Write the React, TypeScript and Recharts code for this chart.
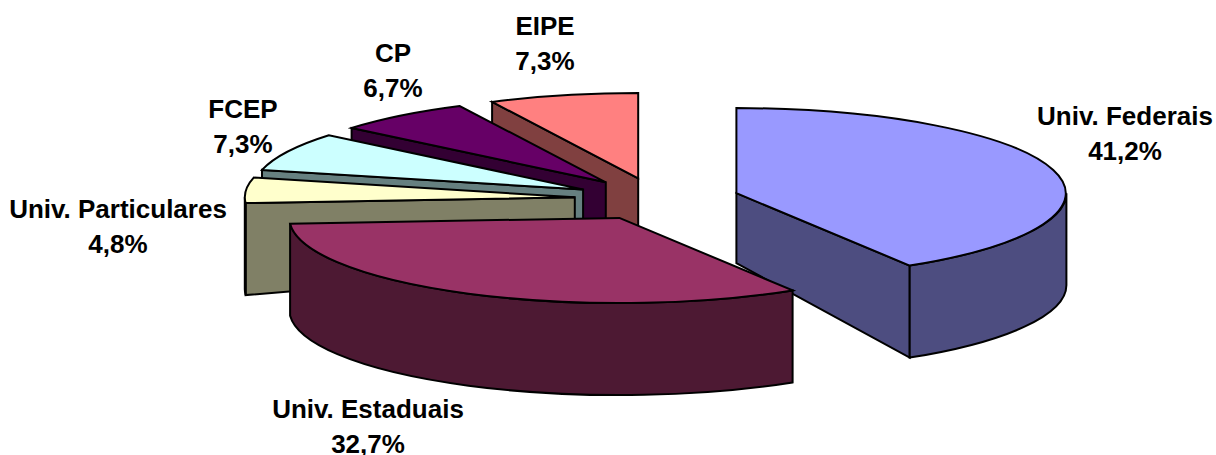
import { PieChart, Pie } from "recharts";

// Slices in paint order: back-right first, the big front slice last
const categories = ["Univ. Federais", "EIPE", "CP", "FCEP", "Univ. Particulares", "Univ. Estaduais"];
const shares = [41.2, 7.3, 6.7, 7.3, 4.8, 32.7];
const topColors = ["#9999FF", "#FF8080", "#660066", "#CCFFFF", "#FFFFCC", "#993366"];
const wallColors = ["#4D4D80", "#804040", "#330033", "#668080", "#808066", "#4D1933"];

// Centre of each two-line label
const labelCenters = [
  [1125, 116],
  [545, 26],
  [393, 53],
  [243, 109],
  [118, 209],
  [368, 409],
];

const data = categories.map((name, i) => ({ name, value: shares[i] }));

const WIDTH = 1216;
const HEIGHT = 455;
const CX = 657;
const CY = 199;
const RADIUS = 330;
const TILT = 0.258; // vertical squash of the disc
const EXPLODE = 0.25; // how far each slice moves out, as a share of the radius
const DEPTH_HUB = 70; // wall height at the hub
const DEPTH_RIM = 92; // wall height at the rim, taller because it is nearer
const FONT = '"Liberation Sans", Arial, sans-serif';
const rad = (deg: number) => (deg * Math.PI) / 180;

// Draws one slice as a tilted wedge with walls; angles come from the Pie layout
function WedgeShape(props: any) {
  const { cx, cy, outerRadius, startAngle, endAngle, midAngle, index } = props;
  const rx = outerRadius;
  const ry = outerRadius * TILT;

  // Clock angles, 0 at twelve o'clock and growing clockwise
  const from = (((90 - endAngle) % 360) + 360) % 360;
  const to = from + (endAngle - startAngle);
  const mid = 90 - midAngle;

  const hubX = cx + EXPLODE * rx * Math.sin(rad(mid));
  const hubY = cy - EXPLODE * ry * Math.cos(rad(mid));
  const rimX = (a: number) => hubX + rx * Math.sin(rad(a));
  const rimY = (a: number) => hubY - ry * Math.cos(rad(a));
  const p = (x: number, y: number) => `${x.toFixed(1)} ${y.toFixed(1)}`;
  const arc = (a: number, dy = 0) => `A ${rx} ${ry} 0 0 1 ${p(rimX(a), rimY(a) + dy)}`;
  const arcBack = (a: number, dy = 0) => `A ${rx} ${ry} 0 0 0 ${p(rimX(a), rimY(a) + dy)}`;

  const cutFace = (a: number) =>
    `M ${p(hubX, hubY)} L ${p(rimX(a), rimY(a))} L ${p(rimX(a), rimY(a) + DEPTH_RIM)} L ${p(hubX, hubY + DEPTH_HUB)} Z`;

  // Only faces turned towards the viewer get drawn
  const startVisible = Math.sin(rad(from)) < -1e-6;
  const endVisible = Math.sin(rad(to)) > 1e-6;

  // The outer wall is visible on the front half of the disc only
  const wallFrom = Math.max(from, 90);
  const wallTo = Math.min(to, 270);
  const hasWall = wallTo > wallFrom;

  const line = { stroke: "#000", strokeWidth: 2, strokeLinejoin: "miter" as const };
  const wallFill = wallColors[index];

  return (
    <g>
      {startVisible && <path d={cutFace(from)} fill={wallFill} {...line} />}
      {endVisible && <path d={cutFace(to)} fill={wallFill} {...line} />}
      {hasWall && (
        <path
          d={`M ${p(rimX(wallFrom), rimY(wallFrom))} ${arc(wallTo)} L ${p(rimX(wallTo), rimY(wallTo) + DEPTH_RIM)} ${arcBack(wallFrom, DEPTH_RIM)} Z`}
          fill={wallFill}
          {...line}
        />
      )}
      <path
        d={`M ${p(hubX, hubY)} L ${p(rimX(from), rimY(from))} ${arc(to)} Z`}
        fill={topColors[index]}
        {...line}
      />
    </g>
  );
}

function SliceLabel(props: any) {
  const { index } = props;
  const [x, y] = labelCenters[index];
  const pct = shares[index].toFixed(1).replace(".", ",") + "%";
  return (
    <text
      x={x}
      y={y}
      textAnchor="middle"
      fontFamily={FONT}
      fontWeight="bold"
      fontSize={26}
      fill="#000"
    >
      <tspan x={x} dy={9}>{categories[index]}</tspan>
      <tspan x={x} dy={34.5}>{pct}</tspan>
    </text>
  );
}

export default function App() {
  // Start so that the first slice ends exactly at twelve o'clock
  const startAngle = 90 - shares[0] * 3.6;
  return (
    <div style={{ position: "absolute", left: 0, top: 0, width: WIDTH, height: HEIGHT, background: "#fff" }}>
      <PieChart width={WIDTH} height={HEIGHT} margin={{ top: 0, right: 0, bottom: 0, left: 0 }}>
        <Pie
          data={data}
          dataKey="value"
          nameKey="name"
          cx={CX}
          cy={CY}
          innerRadius={0}
          outerRadius={RADIUS}
          startAngle={startAngle}
          endAngle={startAngle + 360}
          isAnimationActive={false}
          shape={WedgeShape}
          inactiveShape={WedgeShape}
          activeShape={WedgeShape}
          label={SliceLabel}
          labelLine={false}
        />
      </PieChart>
    </div>
  );
}
